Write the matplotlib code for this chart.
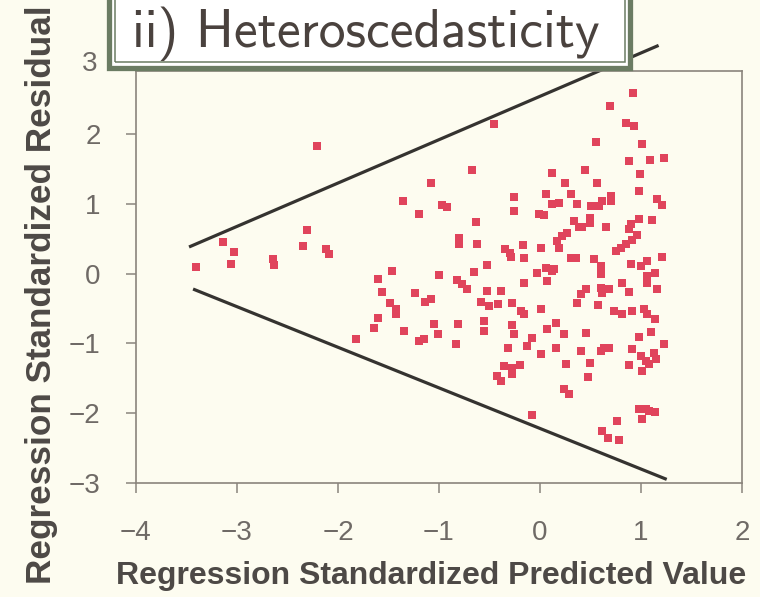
import matplotlib.pyplot as plt
from matplotlib.patches import Rectangle

# predicted value (x) and residual (y) of each point
pred = [-3.41, -3.14, -3.03, -3.06, -2.64, -2.63, -2.21, -2.31, -2.35, -2.12,
        -2.09, -1.82, -1.60, -1.47, -1.56, -1.24, -1.14, -1.08, -1.48, -1.43,
        -1.43, -1.60, -1.64, -1.35, -1.20, -1.15, -1.05, -1.01, -1.00, -0.82,
        -0.83, -0.81, -0.46, -0.67, -1.08, -1.36, -0.97, -0.92, -1.20, -0.26,
        -0.26, 0.06, 0.12, 0.19, -0.01, 0.04, 0.12, 0.25, 0.31, 0.37,
        -0.63, 0.34, 0.39, -0.80, -0.80, -0.62, -0.35, -0.30, -0.29, -0.17,
        0.01, 0.17, 0.19, 0.22, 0.27, -0.16, -0.52, 0.06, 0.14, 0.31,
        0.36, 0.92, 0.69, 0.85, 0.93, 0.55, 1.01, 0.88, 1.09, 1.23,
        0.45, 0.56, 0.99, 0.98, 0.70, 0.70, 0.61, 0.58, 0.51, 1.16,
        1.21, 0.50, 0.50, 0.42, 0.65, 0.98, 0.90, 0.88, 0.96, 0.91,
        0.85, 0.80, 0.75, 1.11, 1.21, 1.06, 1.00, 0.90, 0.53, 0.60,
        -0.65, -0.77, -0.72, -0.52, -0.39, -0.58, -0.50, -0.42, -0.28, -0.19,
        -0.16, -0.16, -0.03, 0.12, 0.07, 0.01, -0.55, -0.55, -0.28, -0.26,
        -0.32, -0.08, -0.13, 0.07, 0.16, 0.01, 0.24, 0.16, 0.37, 0.26,
        -0.36, -0.28, -0.20, -0.28, -0.43, -0.39, 0.24, 0.29, -0.08, 0.60,
        1.06, 1.06, 1.14, 1.16, 0.46, 0.41, 0.60, 0.68, 0.61, 0.81,
        0.88, 0.57, 0.73, 0.81, 0.91, 1.03, 1.06, 1.14, 0.46, 0.98,
        1.10, 1.23, 0.91, 1.00, 1.05, 1.08, 1.13, 1.15, 0.41, 0.60,
        0.63, 0.68, 0.50, 0.88, 1.01, 0.48, 0.98, 1.05, 1.08, 1.14,
        1.01, 0.76, 0.61, 0.67, 0.78]

resid = [0.10, 0.45, 0.31, 0.14, 0.21, 0.12, 1.83, 0.63, 0.40, 0.35,
         0.28, -0.94, -0.08, 0.04, -0.26, -0.28, -0.41, -0.36, -0.42, -0.51,
         -0.58, -0.63, -0.78, -0.82, -0.96, -0.94, -0.72, -0.86, -0.02, -0.09,
         -1.01, -0.72, 2.14, 1.49, 1.30, 1.04, 0.98, 0.96, 0.86, 1.10,
         0.90, 1.14, 1.00, 1.01, 0.86, 0.84, 1.44, 1.30, 1.14, 1.00,
         0.74, 0.76, 0.67, 0.51, 0.43, 0.43, 0.35, 0.30, 0.24, 0.41,
         0.37, 0.47, 0.37, 0.54, 0.58, 0.22, 0.12, 0.08, 0.07, 0.22,
         0.22, 2.59, 2.40, 2.16, 2.12, 1.89, 1.86, 1.61, 1.63, 1.66,
         1.49, 1.30, 1.43, 1.18, 1.11, 1.04, 1.04, 0.97, 0.97, 1.07,
         0.98, 0.80, 0.73, 0.67, 0.67, 0.78, 0.71, 0.64, 0.55, 0.48,
         0.43, 0.37, 0.33, 0.77, 0.24, 0.18, 0.11, 0.14, 0.21, 0.11,
         0.02, -0.15, -0.22, -0.25, -0.25, -0.41, -0.46, -0.43, -0.42, -0.53,
         -0.58, -0.13, 0.01, 0.04, -0.10, -0.51, -0.68, -0.82, -0.73, -0.86,
         -1.06, -0.92, -1.04, -0.79, -0.71, -1.15, -0.86, -1.06, -0.42, -1.29,
         -1.32, -1.35, -1.31, -1.44, -1.47, -1.54, -1.65, -1.72, -2.02, 0.00,
         -0.03, -0.13, 0.01, -0.22, -0.22, -0.29, -0.20, -0.22, -0.28, -0.13,
         -0.26, -0.45, -0.53, -0.58, -0.53, -0.51, -0.58, -0.65, -0.85, -0.91,
         -0.84, -1.01, -1.08, -1.18, -1.25, -1.29, -1.14, -1.22, -1.11, -1.11,
         -1.06, -1.06, -1.28, -1.31, -1.39, -1.48, -1.94, -1.94, -1.97, -1.98,
         -2.08, -2.11, -2.25, -2.35, -2.38]

# the two lines of the cone
upper_x = [-3.46, 1.16]
upper_y = [0.39, 3.26]
lower_x = [-3.42, 1.24]
lower_y = [-0.23, -2.94]

xticks = [-4, -3, -2, -1, 0, 1, 2]
yticks = [-3, -2, -1, 0, 1, 2]

bg = '#fdfcf0'
spine_col = '#8a847c'
tick_col = '#6f6a66'

plt.rcParams['font.family'] = ['Liberation Sans', 'DejaVu Sans']

fig = plt.figure(figsize=(7.6, 5.97), dpi=100, facecolor=bg)
ax = fig.add_axes([0.1789, 0.1910, 0.7974, 0.6898], facecolor=bg)

ax.plot(pred, resid, 's', color='#e0445c', markersize=5.8, markeredgewidth=0, zorder=3)
ax.plot(upper_x, upper_y, color='#353330', linewidth=2.3, clip_on=False, zorder=2)
ax.plot(lower_x, lower_y, color='#353330', linewidth=2.3, clip_on=False, zorder=2)

ax.set_xlim(-4, 2)
ax.set_ylim(-3, 2.9)
ax.set_xticks(xticks)
ax.set_yticks(yticks)
ax.tick_params(direction='out', length=7.5, width=1.1, color=spine_col,
               labelsize=20, labelcolor=tick_col)
ax.tick_params(axis='x', pad=19)
ax.tick_params(axis='y', pad=18)
for s in ax.spines.values():
    s.set_color(spine_col)
    s.set_linewidth(1.2)

# the "3" label sits just above the frame top
ax.text(-0.064, 3, '3', transform=ax.get_yaxis_transform(), ha='right', va='center',
        fontsize=20, color=tick_col, clip_on=False)

ax.set_xlabel('Regression Standardized Predicted Value', fontsize=23,
              fontweight='bold', color='#4d4946')
ax.set_ylabel('Regression Standardized Residual', fontsize=25.3,
              fontweight='bold', color='#4d4946')
ax.xaxis.set_label_coords(0.487, -0.19)
ax.yaxis.set_label_coords(-0.128, 0.458)

# title box with double border
green = '#6b7c63'
fig.patches.append(Rectangle((0.144, 0.886), 0.6856, 0.2, transform=fig.transFigure,
                             facecolor='white', edgecolor=green, linewidth=3.8))
fig.patches.append(Rectangle((0.1513, 0.896), 0.6711, 0.2, transform=fig.transFigure,
                             facecolor='none', edgecolor=green, linewidth=1.1))
fig.text(0.174, 0.921, 'ii) Heteroscedasticity', fontsize=38.5, color='#4a423e',
         family=['cmss10', 'DejaVu Sans'], va='baseline', ha='left')

fig.savefig('out.png', dpi=100, facecolor=bg)
